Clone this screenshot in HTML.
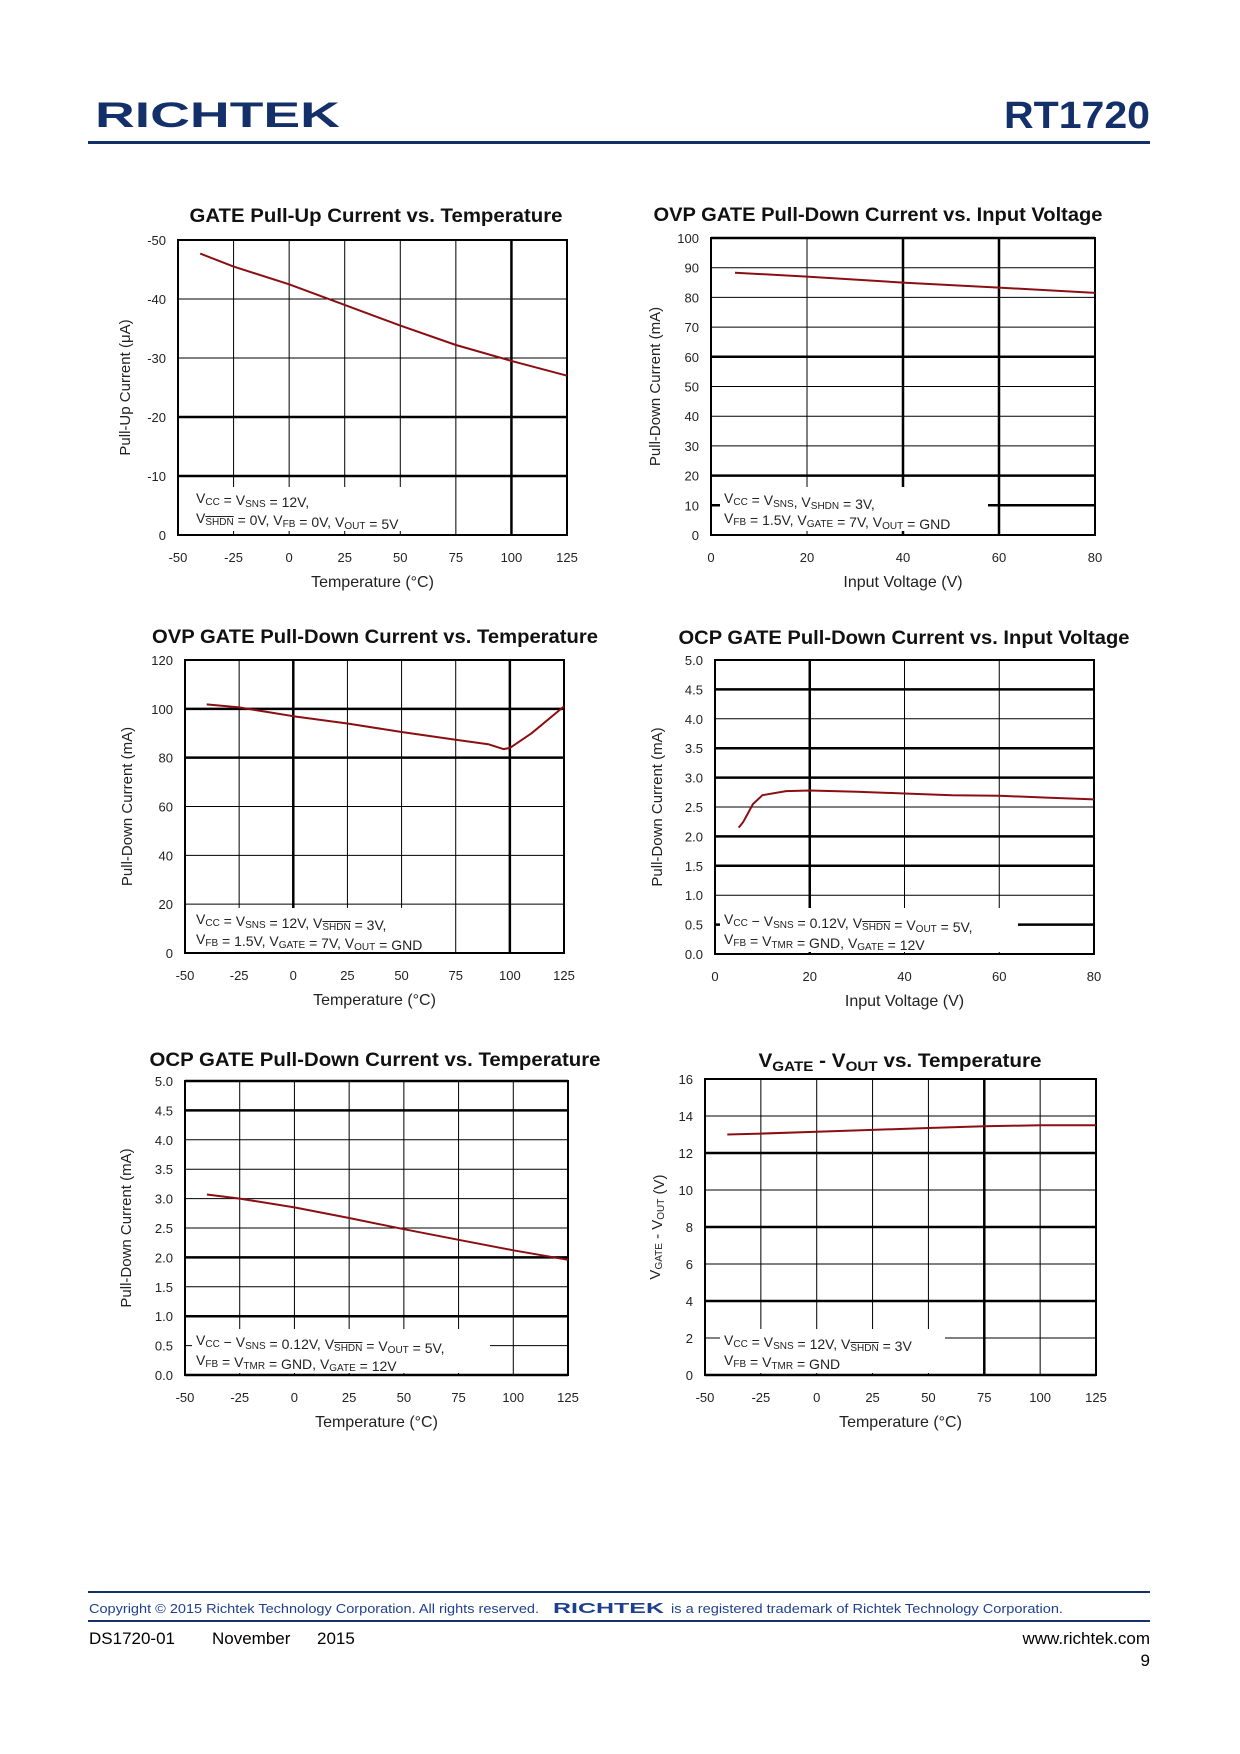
<!DOCTYPE html>
<html><head><meta charset="utf-8"><style>
html,body{margin:0;padding:0;background:#fff}
svg{display:block}
text{font-family:"Liberation Sans",sans-serif}
</style></head><body>
<svg id="page" width="1240" height="1754" viewBox="0 0 1240 1754" xmlns="http://www.w3.org/2000/svg">
<g>
<text x="95" y="127" font-size="35" font-weight="bold" fill="#13306b" textLength="245" lengthAdjust="spacingAndGlyphs">RICHTEK</text>
<text x="1150" y="128" font-size="38" font-weight="bold" fill="#13306b" text-anchor="end" textLength="146" lengthAdjust="spacingAndGlyphs">RT1720</text>
<rect x="88" y="141" width="1062" height="3" fill="#13306b"/>
</g>
<g id="charts"></g>
<g>
<rect x="88" y="1591" width="1062" height="2" fill="#13306b"/>
<rect x="88" y="1620" width="1062" height="2" fill="#13306b"/>
<text x="89" y="1613" font-size="13" fill="#1f3f8f" textLength="450" lengthAdjust="spacingAndGlyphs">Copyright © 2015 Richtek Technology Corporation. All rights reserved.</text>
<text x="553" y="1613" font-size="15" font-weight="bold" fill="#1f3f8f" textLength="111" lengthAdjust="spacingAndGlyphs">RICHTEK</text>
<text x="671" y="1613" font-size="13" fill="#1f3f8f" textLength="392" lengthAdjust="spacingAndGlyphs">is a registered trademark of Richtek Technology Corporation.</text>
<text x="89" y="1644" font-size="17" fill="#000">DS1720-01</text>
<text x="212" y="1644" font-size="17" fill="#000">November</text>
<text x="317" y="1644" font-size="17" fill="#000">2015</text>
<text x="1150" y="1644" font-size="17" fill="#000" text-anchor="end">www.richtek.com</text>
<text x="1150" y="1666" font-size="17" fill="#000" text-anchor="end">9</text>
</g>
</svg>
<script>
// Chart 1: GATE Pull-Up Current vs Temperature
const c1X = [-40, -25, 0, 25, 50, 75, 100, 125];
const c1Y = [-47.7, -45.5, -42.5, -39, -35.5, -32.2, -29.5, -27];
const c1XTicks = [-50, -25, 0, 25, 50, 75, 100, 125];
const c1YTicks = [-50, -40, -30, -20, -10, 0];
// Chart 2: OVP GATE Pull-Down vs Input Voltage
const c2X = [5, 20, 40, 60, 80];
const c2Y = [88.3, 87, 85, 83.3, 81.5];
const c2XTicks = [0, 20, 40, 60, 80];
const c2YTicks = [100, 90, 80, 70, 60, 50, 40, 30, 20, 10, 0];
// Chart 3: OVP GATE Pull-Down vs Temperature
const c3X = [-40, -25, 0, 25, 50, 75, 90, 97, 100, 110, 125];
const c3Y = [101.8, 100.6, 97, 94, 90.5, 87.3, 85.5, 83.5, 84, 90, 101];
const c3XTicks = [-50, -25, 0, 25, 50, 75, 100, 125];
const c3YTicks = [120, 100, 80, 60, 40, 20, 0];
// Chart 4: OCP GATE Pull-Down vs Input Voltage
const c4X = [5, 6, 8, 10, 15, 20, 30, 40, 50, 60, 70, 80];
const c4Y = [2.15, 2.25, 2.55, 2.7, 2.77, 2.78, 2.76, 2.73, 2.7, 2.69, 2.66, 2.63];
const c4XTicks = [0, 20, 40, 60, 80];
const c4YTicks = ["5.0","4.5","4.0","3.5","3.0","2.5","2.0","1.5","1.0","0.5","0.0"];
// Chart 5: OCP GATE Pull-Down vs Temperature
const c5X = [-40, -25, 0, 25, 50, 75, 100, 125];
const c5Y = [3.07, 3.0, 2.85, 2.67, 2.48, 2.3, 2.12, 1.96];
const c5XTicks = [-50, -25, 0, 25, 50, 75, 100, 125];
const c5YTicks = ["5.0","4.5","4.0","3.5","3.0","2.5","2.0","1.5","1.0","0.5","0.0"];
// Chart 6: VGATE - VOUT vs Temperature
const c6X = [-40, -25, 0, 25, 50, 75, 100, 125];
const c6Y = [13.0, 13.05, 13.15, 13.25, 13.35, 13.45, 13.5, 13.5];
const c6XTicks = [-50, -25, 0, 25, 50, 75, 100, 125];
const c6YTicks = [16, 14, 12, 10, 8, 6, 4, 2, 0];

const NS = "http://www.w3.org/2000/svg";
const root = document.getElementById("charts");
function mk(tag, attrs, parent) {
  const e = document.createElementNS(NS, tag);
  for (const k in attrs) e.setAttribute(k, attrs[k]);
  (parent || root).appendChild(e);
  return e;
}

function chart(cfg) {
  const g = mk("g", {});
  
  
  const xt = cfg.xTicks.map(Number), yt = cfg.yTicks.map(Number);
  const xmin = Math.min(...xt), xmax = Math.max(...xt);
  const ymin = Math.min(...yt), ymax = Math.max(...yt);
  const sx = v => cfg.x0 + (v - xmin) / (xmax - xmin) * (cfg.x1 - cfg.x0);
  const sy = v => cfg.y1 - (v - ymin) / (ymax - ymin) * (cfg.y1 - cfg.y0);
  const flipY = cfg.flip ? (v => cfg.y0 + (v - ymin) / (ymax - ymin) * (cfg.y1 - cfg.y0)) : sy;
  const yStep = (ymax - ymin) / (yt.length - 1);
  for (let i = 0; i < yt.length; i++) {
    const v = ymin + i * yStep;
    const yy = flipY(v);
    const thick = cfg.thickH.indexOf(i) >= 0;
    const l = mk("line", {x1: cfg.x0, x2: cfg.x1, y1: yy, y2: yy, stroke: "#000", "stroke-width": thick ? 2.5 : 1}, g);
    
    
  }
  xt.forEach((v, i) => {
    const xx = sx(v);
    const thick = cfg.thickV.indexOf(i) >= 0;
    const l = mk("line", {x1: xx, x2: xx, y1: cfg.y0, y2: cfg.y1, stroke: "#000", "stroke-width": thick ? 2.5 : 1}, g);
    
    
  });
  const fr = mk("rect", {x: cfg.x0, y: cfg.y0, width: cfg.x1 - cfg.x0, height: cfg.y1 - cfg.y0, fill: "none", stroke: "#000", "stroke-width": 2}, g);
  
  
  const lb = mk("rect", {x: cfg.lx - 4, y: cfg.ly - 16, width: cfg.lw, height: 44, fill: "#fff"}, g);
  
  
  cfg.legend.forEach((line, i) => {
    const t = mk("text", {x: cfg.lx, y: cfg.ly + i * 20, "font-size": 14, fill: "#222"}, g);
    
    
    t.innerHTML = line;
  });
  cfg.yTicks.forEach(lab => {
    const t = mk("text", {x: cfg.x0 - 12, y: flipY(Number(lab)) + 5, "font-size": 13, "text-anchor": "end", fill: "#222"}, g);
    
    
    t.textContent = lab;
  });
  cfg.xTicks.forEach(lab => {
    const t = mk("text", {x: sx(Number(lab)), y: cfg.y1 + 27, "font-size": 13, "text-anchor": "middle", fill: "#222"}, g);
    
    
    t.textContent = lab;
  });
  const tt = mk("text", {x: cfg.tx, y: cfg.ty, "font-size": 19, "font-weight": "bold", "text-anchor": "middle", fill: "#111", textLength: cfg.tl, lengthAdjust: "spacingAndGlyphs"}, g);
  
  
  tt.innerHTML = cfg.title;
  const xa = mk("text", {x: (cfg.x0 + cfg.x1) / 2, y: cfg.y1 + 52, "font-size": 16, "text-anchor": "middle", fill: "#222"}, g);
  
  
  xa.textContent = cfg.xTitle;
  const ya = mk("text", {x: 0, y: 0, "font-size": 15, "text-anchor": "middle", fill: "#222", transform: "translate(" + cfg.yax + "," + (cfg.y0 + cfg.y1) / 2 + ") rotate(-90)"}, g);
  
  
  ya.innerHTML = cfg.yTitle;
  const pts = cfg.xs.map((v, i) => sx(v).toFixed(1) + "," + flipY(cfg.ys[i]).toFixed(1)).join(" ");
  const pl = mk("polyline", {points: pts, fill: "none", stroke: "#8b0f12", "stroke-width": 2, "stroke-linejoin": "round"}, g);
  
  
}
const sub = s => '<tspan font-size="10" dy="2">' + s + '</tspan><tspan dy="-2"></tspan>';
const subo = s => '<tspan font-size="10" dy="2" text-decoration="overline">' + s + '</tspan><tspan dy="-2"></tspan>';

chart({name: "chart-gate-pullup-vs-temp", x0: 178, x1: 567, y0: 240, y1: 535, xTicks: c1XTicks, yTicks: c1YTicks, xs: c1X, ys: c1Y, flip: true,
  thickH: [3, 4], thickV: [6], title: "GATE Pull-Up Current vs. Temperature", tx: 376, ty: 222, tl: 373,
  xTitle: "Temperature (°C)", yTitle: "Pull-Up Current (μA)", yax: 130,
  lx: 196, ly: 503, lw: 250, legend: ["V" + sub("CC") + " = V" + sub("SNS") + " = 12V,", "V" + subo("SHDN") + " = 0V, V" + sub("FB") + " = 0V, V" + sub("OUT") + " = 5V"]});
chart({name: "chart-ovp-pulldown-vs-vin", x0: 711, x1: 1095, y0: 238, y1: 535, xTicks: c2XTicks, yTicks: c2YTicks, xs: c2X, ys: c2Y,
  thickH: [1, 2, 6, 10], thickV: [2, 3], title: "OVP GATE Pull-Down Current vs. Input Voltage", tx: 878, ty: 221, tl: 449,
  xTitle: "Input Voltage (V)", yTitle: "Pull-Down Current (mA)", yax: 660,
  lx: 724, ly: 503, lw: 268, legend: ["V" + sub("CC") + " = V" + sub("SNS") + ", V" + sub("SHDN") + " = 3V,", "V" + sub("FB") + " = 1.5V, V" + sub("GATE") + " = 7V, V" + sub("OUT") + " = GND"]});
chart({name: "chart-ovp-pulldown-vs-temp", x0: 185, x1: 564, y0: 660, y1: 953, xTicks: c3XTicks, yTicks: c3YTicks, xs: c3X, ys: c3Y,
  thickH: [4, 5], thickV: [2, 6], title: "OVP GATE Pull-Down Current vs. Temperature", tx: 375, ty: 643, tl: 446,
  xTitle: "Temperature (°C)", yTitle: "Pull-Down Current (mA)", yax: 132,
  lx: 196, ly: 924, lw: 262, legend: ["V" + sub("CC") + " = V" + sub("SNS") + " = 12V, V" + subo("SHDN") + " = 3V,", "V" + sub("FB") + " = 1.5V, V" + sub("GATE") + " = 7V, V" + sub("OUT") + " = GND"]});
chart({name: "chart-ocp-pulldown-vs-vin", x0: 715, x1: 1094, y0: 660, y1: 954, xTicks: c4XTicks, yTicks: c4YTicks, xs: c4X, ys: c4Y,
  thickH: [1, 3, 4, 6, 7, 9], thickV: [1], title: "OCP GATE Pull-Down Current vs. Input Voltage", tx: 904, ty: 644, tl: 451,
  xTitle: "Input Voltage (V)", yTitle: "Pull-Down Current (mA)", yax: 662,
  lx: 724, ly: 924, lw: 298, legend: ["V" + sub("CC") + " − V" + sub("SNS") + " = 0.12V, V" + subo("SHDN") + " = V" + sub("OUT") + " = 5V,", "V" + sub("FB") + " = V" + sub("TMR") + " = GND, V" + sub("GATE") + " = 12V"]});
chart({name: "chart-ocp-pulldown-vs-temp", x0: 185, x1: 568, y0: 1081, y1: 1375, xTicks: c5XTicks, yTicks: c5YTicks, xs: c5X, ys: c5Y,
  thickH: [0, 2, 4, 9, 10], thickV: [], title: "OCP GATE Pull-Down Current vs. Temperature", tx: 375, ty: 1066, tl: 451,
  xTitle: "Temperature (°C)", yTitle: "Pull-Down Current (mA)", yax: 131,
  lx: 196, ly: 1345, lw: 298, legend: ["V" + sub("CC") + " − V" + sub("SNS") + " = 0.12V, V" + subo("SHDN") + " = V" + sub("OUT") + " = 5V,", "V" + sub("FB") + " = V" + sub("TMR") + " = GND, V" + sub("GATE") + " = 12V"]});
chart({name: "chart-vgate-vout-vs-temp", x0: 705, x1: 1096, y0: 1079, y1: 1375, xTicks: c6XTicks, yTicks: c6YTicks, xs: c6X, ys: c6Y,
  thickH: [0, 2, 4, 6], thickV: [5], title: "V" + '<tspan font-size="14" dy="4">GATE</tspan><tspan dy="-4"> - V</tspan><tspan font-size="14" dy="4">OUT</tspan><tspan dy="-4"> vs. Temperature</tspan>', tx: 900, ty: 1067, tl: 283,
  xTitle: "Temperature (°C)", yTitle: "V" + sub("GATE") + " - V" + sub("OUT") + " (V)", yax: 660,
  lx: 724, ly: 1345, lw: 225, legend: ["V" + sub("CC") + " = V" + sub("SNS") + " = 12V, V" + subo("SHDN") + " = 3V", "V" + sub("FB") + " = V" + sub("TMR") + " = GND"]});
</script>
</body></html>
